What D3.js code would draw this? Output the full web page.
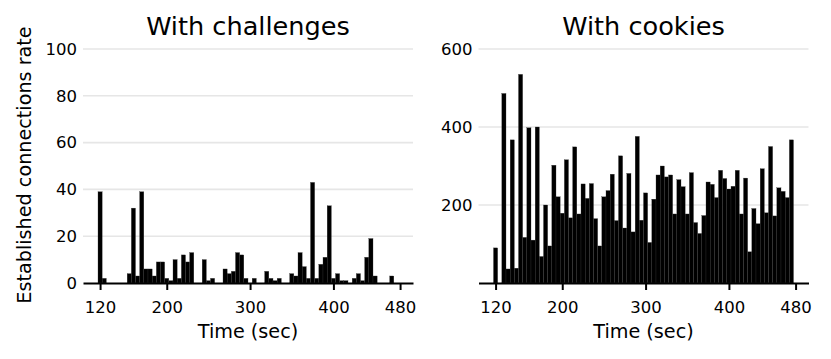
<!DOCTYPE html>
<html>
<head>
<meta charset="utf-8">
<script src="https://cdn.jsdelivr.net/npm/d3@7"></script>
<style>
  body { margin: 0; background: #fff; }
  svg { display: block; font-family: "DejaVu Sans", sans-serif; }
</style>
</head>
<body>
<svg id="chart" width="831" height="359"></svg>
<script>
// bins of 5 sec, starting at 120
const binStart = 120;
const binWidth = 5;

const challenges = [
    39, 2, 0, 0, 0, 0, 0, 4, 32, 3, 39, 6, 6, 3, 9, 9, 2, 1, 10, 2,
    12, 9, 13, 0, 0, 10, 1, 2, 0, 0, 6, 4, 5, 13, 12, 2, 0, 2, 0, 0,
    5, 2, 1, 2, 0, 0, 4, 3, 13, 7, 2, 43, 2, 8, 11, 33, 2, 4, 1, 1,
    0, 2, 4, 1, 11, 19, 3, 0, 0, 0, 3, 0
];

const cookies = [
    90, 0, 486, 36, 367, 38, 535, 117, 398, 110, 400, 68, 200, 95, 302, 221, 179, 316, 167, 349,
    177, 254, 217, 255, 165, 95, 221, 237, 279, 160, 326, 141, 281, 131, 376, 161, 231, 104, 215, 277,
    300, 272, 277, 177, 265, 247, 177, 283, 155, 127, 173, 259, 253, 219, 289, 268, 241, 248, 289, 177,
    269, 80, 191, 152, 293, 180, 350, 172, 244, 235, 219, 367
];

const xTicks = [120, 200, 300, 400, 480];
const leftYTicks = [0, 20, 40, 60, 80, 100];
const rightYTicks = [200, 400, 600];

const svg = d3.select("#chart");

const plotTop = 49;
const plotBottom = 283;

function drawPanel(opts) {
    const x = d3.scaleLinear()
        .domain([99.5, 495.5])
        .range([opts.left, opts.right]);

    const y = d3.scaleLinear()
        .domain([0, opts.yMax])
        .range([plotBottom, plotTop]);

    const g = svg.append("g");

    // gridlines
    g.selectAll(".grid")
        .data(opts.yTicks.filter(d => d > 0))
        .join("line")
        .attr("x1", opts.left)
        .attr("x2", opts.right)
        .attr("y1", d => y(d))
        .attr("y2", d => y(d))
        .attr("stroke", "#e6e6e6")
        .attr("stroke-width", 1.6);

    // bars, thin light edges between neighbours
    g.selectAll(".bar")
        .data(opts.values.map((v, i) => ({ t: binStart + i * binWidth, v })))
        .join("rect")
        .attr("x", d => x(d.t - binWidth / 2))
        .attr("width", d => x(d.t + binWidth / 2) - x(d.t - binWidth / 2))
        .attr("y", d => y(d.v))
        .attr("height", d => y(0) - y(d.v))
        .attr("fill", "#000")
        .attr("stroke", "#3a3a3a")
        .attr("stroke-width", 0.3);

    // x axis
    const xAxis = g.append("g")
        .attr("transform", `translate(0,${plotBottom})`)
        .call(d3.axisBottom(x).tickValues(xTicks).tickSize(7).tickPadding(11).tickSizeOuter(0));
    xAxis.select(".domain").attr("stroke", "#000").attr("stroke-width", 2);
    xAxis.selectAll(".tick line").attr("stroke", "#000").attr("stroke-width", 2);
    xAxis.selectAll(".tick text")
        .attr("fill", "#000")
        .style("font-size", "16.5px")
        .style("font-family", "DejaVu Sans");

    // y axis labels only
    const yAxis = g.append("g")
        .attr("transform", `translate(${opts.left},0)`)
        .call(d3.axisLeft(y).tickValues(opts.yTicks).tickSize(0).tickPadding(6));
    yAxis.select(".domain").remove();
    yAxis.selectAll(".tick text")
        .attr("fill", "#000")
        .style("font-size", "16.5px")
        .style("font-family", "DejaVu Sans");

    // title
    g.append("text")
        .attr("x", (opts.left + opts.right) / 2)
        .attr("y", 35)
        .attr("text-anchor", "middle")
        .style("font-size", "25.6px")
        .text(opts.title);

    // x label
    g.append("text")
        .attr("x", (opts.left + opts.right) / 2)
        .attr("y", 338)
        .attr("text-anchor", "middle")
        .style("font-size", "19.2px")
        .text("Time (sec)");
}

drawPanel({
    left: 83, right: 413,
    yMax: 100, yTicks: leftYTicks,
    values: challenges,
    title: "With challenges"
});

drawPanel({
    left: 478.5, right: 808.5,
    yMax: 600, yTicks: rightYTicks,
    values: cookies,
    title: "With cookies"
});

svg.append("text")
    .attr("transform", "translate(31,165) rotate(-90)")
    .attr("text-anchor", "middle")
    .style("font-size", "19.2px")
    .text("Established connections rate");
</script>
</body>
</html>
